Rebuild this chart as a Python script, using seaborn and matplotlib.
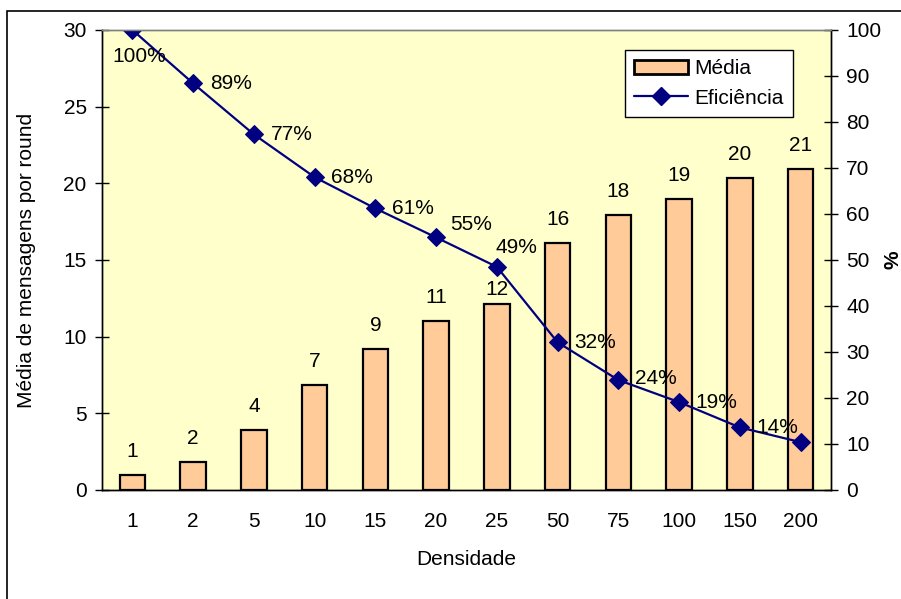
import numpy as np
import pandas as pd
import matplotlib
matplotlib.use("Agg")
import matplotlib.pyplot as plt
import seaborn as sns
from matplotlib.patches import Patch, Rectangle
from matplotlib.lines import Line2D

densidade = ["1", "2", "5", "10", "15", "20", "25", "50", "75", "100", "150", "200"]
media = [1.0, 1.8, 3.9, 6.85, 9.2, 11.0, 12.1, 16.1, 17.95, 19.0, 20.35, 20.95]
media_labels = ["1", "2", "4", "7", "9", "11", "12", "16", "18", "19", "20", "21"]
eficiencia = [100, 88.4, 77.3, 68.0, 61.2, 54.9, 48.5, 32.1, 23.9, 19.1, 13.6, 10.4]
eficiencia_labels = ["100%", "89%", "77%", "68%", "61%", "55%", "49%", "32%", "24%", "19%", "14%", ""]

sns.set_style("white")
plt.rcParams['font.family'] = ['Liberation Sans', 'DejaVu Sans']
plt.rcParams.update({"text.color": "black", "axes.labelcolor": "black",
                     "xtick.color": "black", "ytick.color": "black"})

FS = 15
BG = "#FFFFCC"
BAR = "#FFCC99"
NAVY = "#000080"

df = pd.DataFrame({"Densidade": densidade, "Media": media, "Eficiencia": eficiencia})
df["pos"] = np.arange(len(df))

fig = plt.figure(figsize=(9.01, 5.99), dpi=100)
ax = fig.add_axes([0.1132, 0.1820, 0.8091, 0.7680])
ax.set_facecolor(BG)

# barras (eixo esquerdo)
sns.barplot(data=df, x="Densidade", y="Media", order=densidade, ax=ax,
            color=BAR, saturation=1, width=0.42, edgecolor="black", linewidth=1.6)
blabels = ax.bar_label(ax.containers[0], labels=media_labels, padding=10, fontsize=FS)
blabels[6].xyann = (0, 4)  # o "12" fica mais perto da barra

ax.set_ylim(0, 30)
ax.set_yticks(np.arange(0, 31, 5))
ax.set_xlim(-0.5, len(densidade) - 0.5)
ax.set_xticks(np.arange(len(densidade)))
ax.set_xticklabels(densidade)
ax.set_xticks(np.arange(-0.5, len(densidade)), minor=True)
ax.tick_params(axis="x", which="major", length=0, pad=16, labelsize=FS)
ax.tick_params(axis="x", which="minor", length=6, direction="out", width=1, color="black")
ax.tick_params(axis="y", length=10, direction="inout", width=1, color="black", labelsize=FS, pad=6)

ax.set_xlabel("Densidade", fontsize=FS)
ax.set_ylabel("Média de mensagens por round", fontsize=FS)
ax.xaxis.set_label_coords(0.5, -0.13)
ax.yaxis.set_label_coords(-0.09, 0.5)

# linha (eixo direito)
ax2 = ax.twinx()
sns.lineplot(data=df, x="pos", y="Eficiencia", ax=ax2, color=NAVY, linewidth=1.6,
             marker="D", markersize=9, markeredgecolor=NAVY, legend=False)
ax2.set_ylim(0, 100)
ax2.set_yticks(np.arange(0, 101, 10))
ax2.set_xlim(-0.5, len(densidade) - 0.5)
ax2.tick_params(axis="y", length=10, direction="inout", width=1, color="black", labelsize=FS, pad=6)
ax2.set_ylabel("%", fontsize=FS, fontweight="bold")
ax2.yaxis.set_label_coords(1.072, 0.5)
ax2.set_xlabel("")

# deslocamentos dos rotulos de porcentagem (em pontos)
offsets = [(5, -19), (12, 0), (12, 0), (12, 0), (12, 0), (10, 9), (-1, 14),
           (12, 0), (12, 1), (12, 0), (12, 0), (12, 0)]
for i, (val, lab) in enumerate(zip(eficiencia, eficiencia_labels)):
    if not lab:
        continue
    dx, dy = offsets[i]
    ha = "center" if i == 0 else "left"
    ax2.annotate(lab, (i, val), xytext=(dx, dy), textcoords="offset points",
                 ha=ha, va="center", fontsize=FS)

for a in (ax, ax2):
    for s in a.spines.values():
        s.set_color("black")
        s.set_linewidth(1)
    a.spines["top"].set_color("#808080")

# legenda
handles = [Patch(facecolor=BAR, edgecolor="black", linewidth=2),
           Line2D([], [], color=NAVY, linewidth=1.6, marker="D", markersize=9)]
leg = ax2.legend(handles, ["Média", "Eficiência"], loc="upper right",
                 bbox_to_anchor=(0.948, 0.957), borderaxespad=0, fontsize=FS,
                 fancybox=False, framealpha=1, edgecolor="black",
                 handlelength=2.6, handletextpad=0.3, borderpad=0.45,
                 labelspacing=0.5)
leg.get_frame().set_linewidth(1)

# borda externa do grafico
fig.patches.append(Rectangle((7 / 901, -0.1), 1.2, 1 - 11 / 599 + 0.1,
                             transform=fig.transFigure, fill=False,
                             edgecolor="black", linewidth=1.2))

plt.savefig("out.png", dpi=100)
